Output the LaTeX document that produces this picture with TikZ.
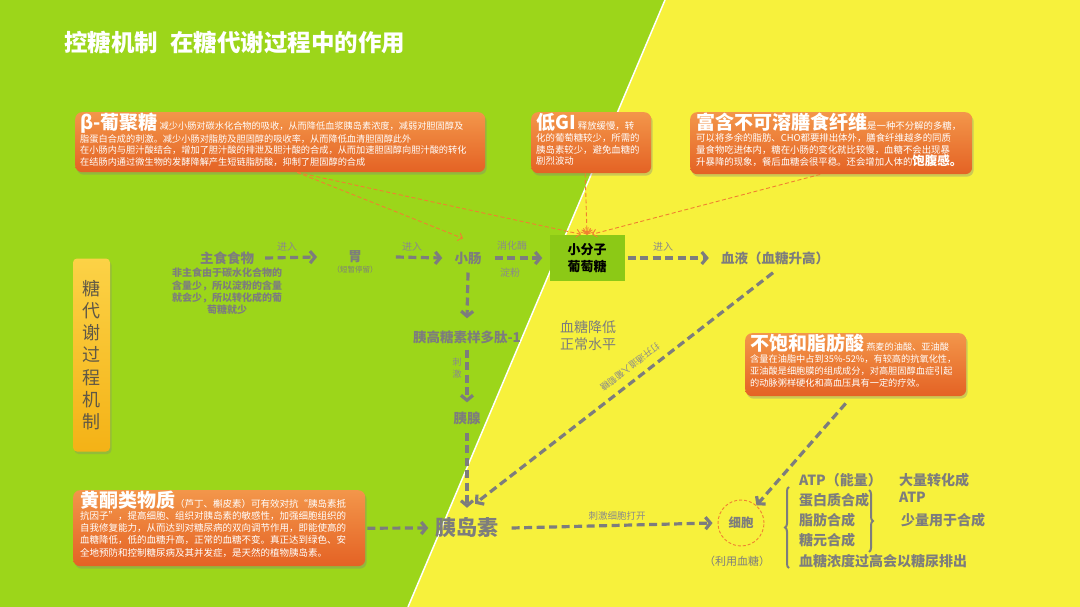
\documentclass[tikz,border=0pt]{standalone}
\usepackage{fontspec}
\setmainfont{Noto Sans CJK SC}
\usetikzlibrary{arrows.meta,shadows,shadings,decorations.pathreplacing,calc}
\definecolor{gbg}{RGB}{156,214,26}
\definecolor{ybg}{RGB}{247,241,60}
\definecolor{oL}{RGB}{243,150,74}
\definecolor{oD}{RGB}{228,98,36}
\definecolor{gtx}{RGB}{125,125,125}
\definecolor{boxg}{RGB}{140,201,22}
\definecolor{yL}{RGB}{252,210,70}
\definecolor{yD}{RGB}{244,178,22}
\definecolor{oarr}{RGB}{240,128,48}
\definecolor{sidetx}{RGB}{95,88,70}
\newcommand\bt[1]{{\fontsize{19}{19}\selectfont\bfseries #1}}
\tikzset{
 obox/.style={rounded corners=7pt, top color=oL, bottom color=oD, draw=none, anchor=north west,
   drop shadow={opacity=0.35,shadow xshift=1.5pt,shadow yshift=-2.5pt}},
 btxt/.style={text=white, align=left, inner sep=0pt, anchor=north west, font=\fontsize{9.4}{11.8}\selectfont},
 gtext/.style={text=gtx, font=\fontsize{13.5}{15}\selectfont\bfseries, inner sep=1pt},
 rtext/.style={text=gtx, font=\fontsize{14}{15}\selectfont\bfseries, inner sep=1pt, anchor=west},
 garr/.style={draw=gtx, line width=3.2pt, dash pattern=on 8pt off 4.5pt, -{Straight Barb[length=5pt,width=12pt]}},
 oarrow/.style={draw=oarr, line width=0.9pt, dash pattern=on 4pt off 2.5pt, -{Straight Barb[length=4pt,width=8pt]}},
 lbl/.style={text=gtx!90, font=\fontsize{10}{11}\selectfont, inner sep=1pt},
}
\begin{document}
\begin{tikzpicture}[x=1pt,y=-1pt]
\useasboundingbox (0,0) rectangle (1080,607);
% background
\fill[ybg] (0,0) rectangle (1080,607);
\fill[gbg] (0,0) -- (665,0) -- (408,607) -- (0,607) -- cycle;
\draw[white, line width=1.5pt] (665,0) -- (408,607);

% title
\node[anchor=west, text=white, font=\fontsize{23.5}{24}\selectfont\bfseries, inner sep=0pt] (title) at (64,43) {控糖机制\hspace{12pt}在糖代谢过程中的作用};

% orange boxes
\node[obox, minimum width=410pt, minimum height=60pt] (b1) at (75,112) {};
\node[btxt, font=\fontsize{9.2}{11.5}\selectfont] (t1) at (80,113) {\bt{β-葡聚糖} 减少小肠对碳水化合物的吸收，从而降低血浆胰岛素浓度，减弱对胆固醇及\\脂蛋白合成的刺激。减少小肠对脂肪及胆固醇的吸收率，从而降低血清胆固醇此外\\在小肠内与胆汁酸结合，增加了胆汁酸的排泄及胆汁酸的合成，从而加速胆固醇向胆汁酸的转化\\在结肠内通过微生物的发酵降解产生短链脂肪酸，抑制了胆固醇的合成};

\node[obox, minimum width=120pt, minimum height=61pt] (b2) at (531,112) {};
\node[btxt] (t2) at (536,113) {\bt{低GI} 释放缓慢，转\\化的葡萄糖较少，所需的\\胰岛素较少，避免血糖的\\剧烈波动};

\node[obox, minimum width=282pt, minimum height=62pt] (b3) at (690,112) {};
\node[btxt] (t3) at (696,113) {\bt{富含不可溶膳食纤维}是一种不分解的多糖，\\可以将多余的脂肪、CHO都要排出体外，膳食纤维越多的同质\\量食物吃进体内，糖在小肠的变化就比较慢，血糖不会出现暴\\升暴降的现象，餐后血糖会很平稳。还会增加人体的{\fontsize{12.5}{12}\selectfont\bfseries 饱腹感。}};

\node[obox, minimum width=221pt, minimum height=63pt] (b4) at (745,333) {};
\node[btxt, font=\fontsize{9.2}{11.8}\selectfont] (t4) at (750,334) {\bt{不饱和脂肪酸} 燕麦的油酸、亚油酸\\含量在油脂中占到35\%-52\%，有较高的抗氧化性，\\亚油酸是细胞膜的组成成分，对高胆固醇血症引起\\的动脉粥样硬化和高血压具有一定的疗效。};

\node[obox, minimum width=292pt, minimum height=76pt] (b5) at (73,490) {};
\node[btxt, font=\fontsize{9.5}{12.1}\selectfont] (t5) at (80,491) {\bt{黄酮类物质}（芦丁、槲皮素）可有效对抗“胰岛素抵\\抗因子”，提高细胞、组织对胰岛素的敏感性，加强细胞组织的\\自我修复能力，从而达到对糖尿病的双向调节作用，即能使高的\\血糖降低，低的血糖升高，正常的血糖不变。真正达到绿色、安\\全地预防和控制糖尿病及其并发症，是天然的植物胰岛素。};

% side box
\node[rounded corners=4pt, top color=yL, bottom color=yD, minimum width=37pt, minimum height=193pt,
  drop shadow={opacity=0.3,shadow xshift=1.5pt,shadow yshift=-2.5pt},
  text=sidetx, font=\fontsize{18}{22.2}\selectfont, align=center, inner sep=0pt] (side) at (91.5,355) {糖\\代\\谢\\过\\程\\机\\制};

% main flow nodes
\node[gtext] (food) at (227,258) {主食食物};
\node[text=gtx, font=\fontsize{10}{12.3}\selectfont\bfseries, align=center, inner sep=0pt] (foodnote) at (227,291.5) {非主食由于碳水化合物的\\含量少，所以淀粉的含量\\就会少，所以转化成的葡\\萄糖就少};
\node[gtext] (stom) at (355,257) {胃};
\node[text=gtx, font=\fontsize{7.5}{8}\selectfont, inner sep=0pt] (stomnote) at (355,270) {（短暂停留）};
\node[gtext] (si) at (468,258) {小肠};
\node[fill=boxg, minimum width=75pt, minimum height=45pt, align=center, text=black,
  font=\fontsize{13}{17}\selectfont\bfseries, inner sep=0pt] (glu) at (587,258) {小分子\\葡萄糖};
\node[gtext] (blood) at (775,258) {血液（血糖升高）};
\node[gtext] (glp) at (467,337) {胰高糖素样多肽-1};
\node[gtext] (panc) at (467,418) {胰腺};
\node[gtext, font=\fontsize{21}{22}\selectfont\bfseries] (ins) at (467,528) {胰岛素};
\node[text=gtx, font=\fontsize{14}{17}\selectfont, align=left, inner sep=0pt] (low) at (588,336) {血糖降低\\正常水平};
\node[circle, draw=oarr, dash pattern=on 3pt off 2pt, line width=0.9pt, minimum size=46pt, inner sep=0pt,
  text=gtx, font=\fontsize{12.5}{13}\selectfont\bfseries] (cell) at (741,523) {细胞};
\node[text=gtx, font=\fontsize{11}{12}\selectfont, inner sep=0pt] (use) at (737,561) {（利用血糖）};

% right group
\node[rtext] (atp) at (798,480) {ATP（能量）};
\node[rtext] (prot) at (798,500) {蛋白质合成};
\node[rtext] (fat) at (798,520) {脂肪合成};
\node[rtext] (glyc) at (798,540) {糖元合成};
\node[rtext] (excr) at (798,561) {血糖浓度过高会以糖尿排出};
\node[rtext] (much) at (898,480) {大量转化成};
\node[rtext] (atp2) at (898,497) {ATP};
\node[rtext] (few) at (900,520) {少量用于合成};
\draw[gtx, line width=2pt, decorate, decoration={brace, amplitude=4pt}] (789,568) -- (789,487);
\draw[gtx, line width=2pt, decorate, decoration={brace, amplitude=4pt}] (869,490) -- (869,552);

% gray arrows
\draw[garr] ([xshift=10pt]food.east) -- ([xshift=-30pt]stom.west);
\draw[garr] ([xshift=33pt]stom.east) -- ([xshift=-11pt]si.west);
\draw[garr] ([xshift=12pt]si.east) -- ([xshift=-7pt]glu.west);
\draw[garr] ([xshift=3pt]glu.east) -- ([xshift=-11pt]blood.west);
\draw[garr] ([yshift=-7pt]si.south) -- ([yshift=11pt]glp.north);
\draw[garr] ([yshift=-5pt]glp.south) -- ([yshift=8pt]panc.north);
\draw[garr] ([yshift=-7pt]panc.south) -- ([yshift=9pt]ins.north);
\draw[garr] ([xshift=-2pt,yshift=-7pt]blood.south) -- ([xshift=8pt,yshift=13pt]ins.north);
\draw[garr] ([xshift=2pt]b5.east) -- ([xshift=-6pt]ins.west);
\draw[garr] ([xshift=12pt]ins.east) -- ([xshift=-5pt]cell.west);
\draw[garr] ([xshift=-10pt,yshift=-7pt]b4.south) -- (cell);

% orange arrows
\draw[oarrow] ([xshift=17pt]b1.south) -- ([xshift=-5pt,yshift=12pt]si.north);
\draw[oarrow] ([xshift=17pt]b1.south) -- ([xshift=-6pt,yshift=1pt]glu.north);
\draw[oarrow] ([xshift=-6pt]b2.south) -- ([yshift=1pt]glu.north);
\draw[oarrow] ([xshift=-11pt]b3.south) -- ([xshift=5pt,yshift=1pt]glu.north);
\foreach \a in {20,40,...,160} \draw[oarr, line width=0.7pt] ([yshift=1pt]glu.north) -- ++(\a:7pt);

% labels
\node[lbl] (l1) at (287,247) {进入};
\node[lbl] (l2) at (412,247) {进入};
\node[lbl] (l3) at (512,246) {消化酶};
\node[lbl] (l4) at (510,273) {淀粉};
\node[lbl] (l5) at (663,247) {进入};
\node[lbl, align=center, font=\fontsize{9}{12}\selectfont] (l6) at (457,368) {刺\\激};
\node[lbl, font=\fontsize{9.5}{10}\selectfont] (l7) at (617,516) {刺激细胞打开};
\node[lbl, font=\fontsize{9}{10}\selectfont, rotate=-142] (l8) at (630,367) {打开通道入葡萄糖};
\end{tikzpicture}
\end{document}
